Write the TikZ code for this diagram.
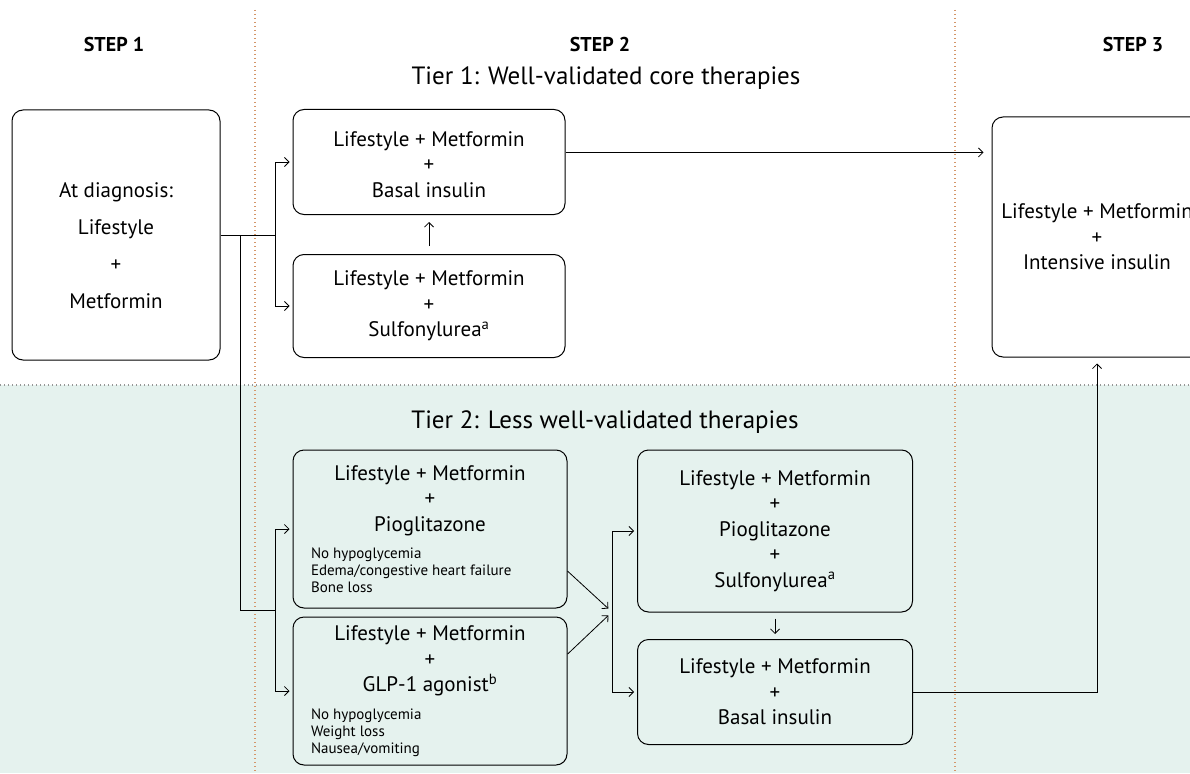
\documentclass[tikz,border=0pt]{standalone}
\usepackage{fontspec}
\setmainfont{PT Sans}
\usetikzlibrary{arrows.meta}

\definecolor{tiertwo}{RGB}{229,242,238}
\definecolor{stepline}{RGB}{212,150,105}
\definecolor{tierline}{RGB}{150,150,150}

\newcommand{\sidenotes}[1]{\parbox[t]{238pt}{\raggedright\fontsize{15}{17}\selectfont #1}}

\begin{document}
\begin{tikzpicture}[x=1pt, y=-1pt,
    box/.style={rectangle, draw, rounded corners=11pt, line width=1pt, align=center, font=\fontsize{21}{25.5}\selectfont},
    arrow/.style={-{Straight Barb[length=4.5pt,width=9pt]}, line width=0.8pt},
    link/.style={line width=0.8pt},
    rule/.style={dash pattern=on 1.3pt off 2.7pt, line width=1.2pt},
    steplabel/.style={font=\fontsize{20}{22}\selectfont\bfseries},
    tierlabel/.style={font=\fontsize{25}{28}\selectfont}
]
\useasboundingbox (0,0) rectangle (1190,773);

% tier 2 band and column rules
\fill[tiertwo] (0,385) rectangle (1190,773);
\draw[tierline, rule] (0,385) -- (1190,385);
\draw[stepline, rule] (255,10) -- (255,773);
\draw[stepline, rule] (955,10) -- (955,773);

\node[steplabel] (step1) at (114,45) {STEP 1};
\node[steplabel] (step2) at (600,45) {STEP 2};
\node[steplabel] (step3) at (1133,45) {STEP 3};
\node[tierlabel] (tier1) at (606,78) {Tier 1: Well-validated core therapies};
\node[tierlabel] (tier2) at (605,422) {Tier 2: Less well-validated therapies};

\node[box, minimum width=208pt, minimum height=250pt, font=\fontsize{21}{37}\selectfont] (diag) at (116,235) {\rule{0pt}{36pt}At diagnosis:\\Lifestyle\\+\\Metformin};
\node[box, minimum width=272pt, minimum height=105pt] (t1a) at (429,162) {\rule{0pt}{20pt}Lifestyle + Metformin\\+\\Basal insulin};
\node[box, minimum width=272pt, minimum height=103pt] (t1b) at (429,306) {Lifestyle + Metformin\\+\\Sulfonylurea\textsuperscript{a}};
\node[box, minimum width=210pt, minimum height=240pt] (t3) at (1097,237) {Lifestyle + Metformin\\+\\Intensive insulin};

\node[box, minimum width=274pt, minimum height=158pt] (pio) at (430,529) {Lifestyle + Metformin\\+\\Pioglitazone\\[2pt]\sidenotes{No hypoglycemia\\Edema/congestive heart failure\\Bone loss}};
\node[box, minimum width=274pt, minimum height=148pt] (glp) at (430,691) {Lifestyle + Metformin\\+\\GLP-1 agonist\textsuperscript{b}\\[2pt]\sidenotes{No hypoglycemia\\Weight loss\\Nausea/vomiting}};
\node[box, minimum width=275pt, minimum height=162pt] (ps) at (775,531) {Lifestyle + Metformin\\+\\Pioglitazone\\+\\Sulfonylurea\textsuperscript{a}};
\node[box, minimum width=275pt, minimum height=105pt] (pb) at (775,692) {Lifestyle + Metformin\\+\\Basal insulin};

\coordinate (j1) at (275,235);
\coordinate (j2) at (240,235);
\coordinate (j3) at (275,610);
\coordinate (j4) at (612,612);

\draw[link] (diag.east) -- (j1);
\draw[arrow, shorten >=3pt] (j1) |- (t1a.west);
\draw[arrow, shorten >=3pt] (j1) |- (t1b.west);
\draw[link] (j2) |- (j3);
\draw[arrow, shorten >=3pt] (j3) |- (pio.west);
\draw[arrow, shorten >=3pt] (j3) |- (glp.west);

\draw[arrow, shorten <=8pt, shorten >=7pt] (t1b.north) -- (t1a.south);
\draw[arrow, shorten <=6pt, shorten >=5pt] (ps.south) -- (pb.north);
\draw[arrow, shorten >=8pt] (t1a.4) -- (t1a.4 -| t3.west);

\draw[arrow, shorten >=5pt] (pio.-17) -- (j4);
\draw[arrow, shorten >=5pt] (glp.15) -- (j4);
\draw[arrow, shorten >=3pt] (j4) |- (ps.west);
\draw[arrow, shorten >=3pt] (j4) |- (pb.west);
\draw[arrow, shorten >=6pt] (pb.east) -| (t3.south);

\end{tikzpicture}
\end{document}
